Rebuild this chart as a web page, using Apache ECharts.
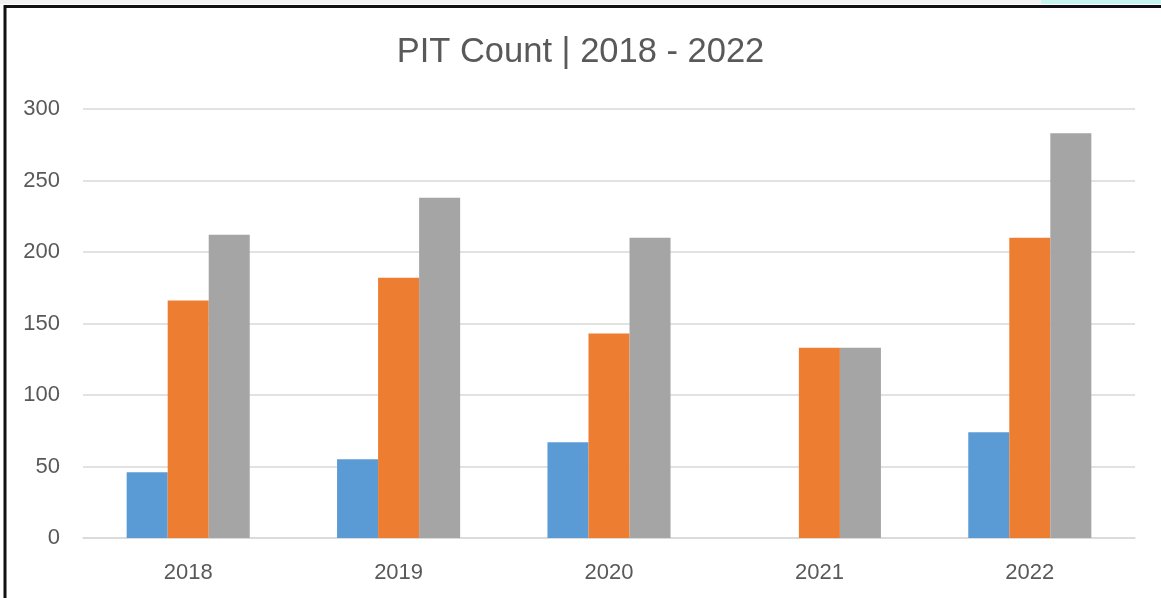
<!DOCTYPE html>
<html>
<head>
<meta charset="utf-8">
<script src="https://cdn.jsdelivr.net/npm/echarts@6/dist/echarts.min.js"></script>
<style>
html,body{margin:0;padding:0;background:#fff;}
#chart{width:1161px;height:598px;}
</style>
</head>
<body>
<div id="chart"></div>
<script>
const categories = ['2018', '2019', '2020', '2021', '2022'];
const seriesBlue = [46, 55, 67, null, 74];
const seriesOrange = [166, 182, 143, 133, 210];
const seriesGray = [212, 238, 210, 133, 283];
const yTicks = { min: 0, max: 300, interval: 50 };
const titleText = 'PIT Count | 2018 - 2022';

const chart = echarts.init(document.getElementById('chart'), null, { renderer: 'canvas' });
const font = '"Liberation Sans", Arial, sans-serif';
const textColor = '#595959';

chart.setOption({
  animation: false,
  backgroundColor: '#ffffff',
  title: {
    text: titleText,
    left: 'center',
    top: 30,
    textStyle: { fontFamily: font, fontSize: 34.5, fontWeight: 'normal', color: textColor }
  },
  graphic: [
    { type: 'rect', shape: { x: 0, y: 0, width: 1041, height: 4 }, style: { fill: '#f2f2f2' }, silent: true },
    { type: 'rect', shape: { x: 1041, y: 0, width: 120, height: 4 }, style: { fill: '#c6f4ef' }, silent: true },
    { type: 'rect', shape: { x: 5, y: 6.5, width: 1170, height: 620 }, style: { fill: 'none', stroke: '#111111', lineWidth: 3 }, silent: true }
  ],
  grid: { left: 83, right: 26, top: 109, bottom: 60, containLabel: false },
  xAxis: {
    type: 'category',
    data: categories,
    axisLine: { show: true, lineStyle: { color: '#d9d9d9', width: 1.5 } },
    axisTick: { show: false },
    axisLabel: { color: textColor, fontFamily: font, fontSize: 22, margin: 24 }
  },
  yAxis: {
    type: 'value',
    min: yTicks.min,
    max: yTicks.max,
    interval: yTicks.interval,
    axisLine: { show: false },
    axisTick: { show: false },
    splitLine: { lineStyle: { color: '#d9d9d9', width: 1.5 } },
    axisLabel: { color: textColor, fontFamily: font, fontSize: 22, margin: 23 }
  },
  series: [
    { type: 'bar', data: seriesBlue, itemStyle: { color: '#5b9bd5' }, barGap: '0%', barCategoryGap: '41.5%' },
    { type: 'bar', data: seriesOrange, itemStyle: { color: '#ed7d31' }, barGap: '0%', barCategoryGap: '41.5%' },
    { type: 'bar', data: seriesGray, itemStyle: { color: '#a5a5a5' }, barGap: '0%', barCategoryGap: '41.5%' }
  ]
});
</script>
</body>
</html>
